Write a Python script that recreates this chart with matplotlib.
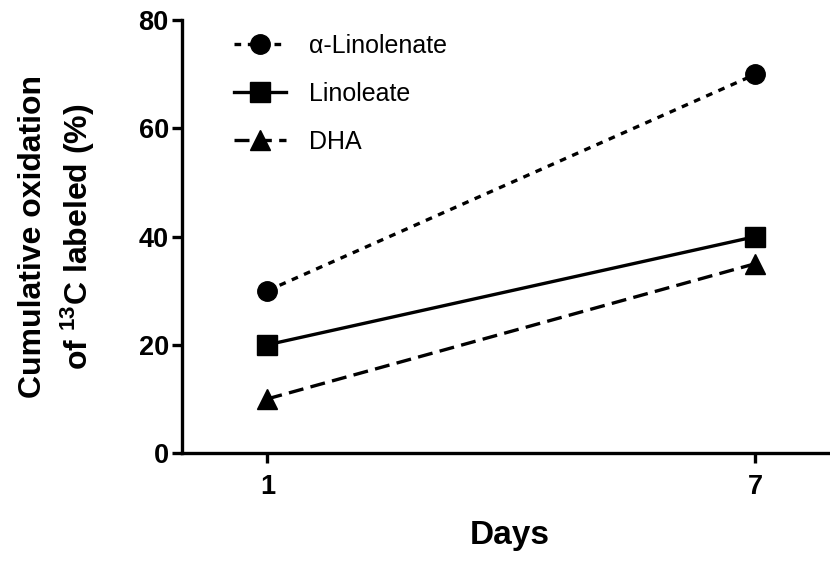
import matplotlib
matplotlib.use('Agg')
import matplotlib.pyplot as plt

days = [1, 7]
alpha_linolenate = [30, 70]
linoleate = [20, 40]
dha = [10, 35]
series_labels = ['\u03b1-Linolenate', 'Linoleate', 'DHA']

plt.rcParams['font.family'] = ['Liberation Sans', 'DejaVu Sans']
plt.rcParams['mathtext.fontset'] = 'custom'
plt.rcParams['mathtext.rm'] = 'Liberation Sans:bold'
plt.rcParams['mathtext.default'] = 'rm'
plt.rcParams['axes.linewidth'] = 2.4

fig = plt.figure(figsize=(8.3, 5.62), dpi=100)
ax = fig.add_axes([0.2193, 0.194, 0.7888, 0.77])

lw = 2.4
ax.plot(days, alpha_linolenate, color='black', linewidth=lw, linestyle=(0, (2.0, 2.0)),
        marker='o', markersize=14, label=series_labels[0], clip_on=False)
ax.plot(days, linoleate, color='black', linewidth=lw, linestyle='-',
        marker='s', markersize=14, label=series_labels[1], clip_on=False)
ax.plot(days, dha, color='black', linewidth=lw, linestyle=(0, (4.5, 2.2)),
        marker='^', markersize=15, label=series_labels[2], clip_on=False)

ax.set_xlim(-0.05, 8)
ax.set_ylim(0, 80)
ax.set_xticks(days)
ax.set_yticks([0, 20, 40, 60, 80])

ax.spines['top'].set_visible(False)
ax.spines['right'].set_visible(False)

ax.tick_params(axis='both', which='major', direction='out', length=7.5, width=2.4,
               labelsize=19.5, pad=2)
ax.tick_params(axis='x', pad=8)
for lbl in ax.get_xticklabels() + ax.get_yticklabels():
    lbl.set_fontweight('bold')

ax.set_xlabel('Days', fontsize=24, fontweight='bold', labelpad=14)
ax.set_ylabel('Cumulative oxidation\nof $^{13}$C labeled (%)', fontsize=23,
              fontweight='bold', labelpad=30, linespacing=1.35)

ax.legend(loc='upper left', bbox_to_anchor=(0.045, 1.02), frameon=False, fontsize=18,
          handlelength=2.1, handletextpad=0.9, labelspacing=0.95, markerscale=1.0)

plt.savefig('out.png', dpi=100)
